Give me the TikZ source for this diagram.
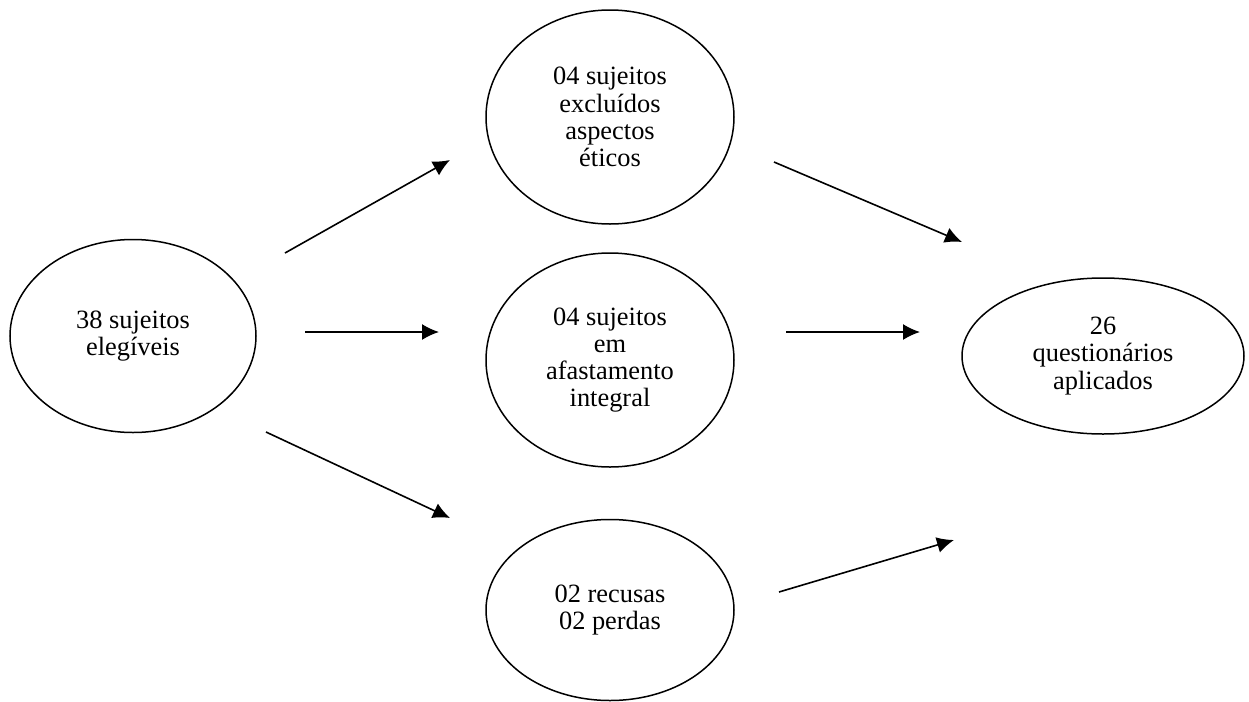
\documentclass[tikz,border=0pt]{standalone}
\usepackage{fontspec}
\setmainfont{Liberation Serif}
\usetikzlibrary{shapes.geometric,arrows.meta}
\begin{document}
\begin{tikzpicture}[x=0.5pt, y=-0.5pt,
		etapa/.style={draw, ellipse, line width=0.75pt, inner sep=0pt, align=center, font=\fontsize{13.2}{13.6}\selectfont},
		seta/.style={-{Latex[length=8.5pt,width=8pt]}, line width=0.8pt}]
		\useasboundingbox (0,0) rectangle (1249,702);
		
		\node (elegiveis) [etapa, minimum width=123pt, minimum height=96.5pt] at (133,336) {38 sujeitos\\elegíveis};
		\node (excluidos) [etapa, minimum width=124pt, minimum height=107pt] at (610,117) {04 sujeitos\\excluídos\\aspectos\\éticos};
		\node (afastamento) [etapa, minimum width=124pt, minimum height=107pt] at (610,360) {04 sujeitos\\em\\afastamento\\integral};
		\node (recusas) [etapa, minimum width=124pt, minimum height=90.5pt] at (610,610) {02 recusas\\02 perdas};
		\node (aplicados) [etapa, minimum width=141pt, minimum height=78pt] at (1103,356) {26\\questionários\\aplicados};
		
		% Pfeilenden
		\coordinate (ein1) at (285,253); \coordinate (aus1) at (450,160);
		\coordinate (ein2) at (305,332); \coordinate (aus2) at (439,332);
		\coordinate (ein3) at (266,432); \coordinate (aus3) at (450,518);
		\coordinate (ein4) at (774,162); \coordinate (aus4) at (962,242);
		\coordinate (ein5) at (786,332); \coordinate (aus5) at (920,332);
		\coordinate (ein6) at (779,592); \coordinate (aus6) at (954,540);
		
		\draw[seta] (ein1) -- (aus1);
		\draw[seta] (ein2) -- (aus2);
		\draw[seta] (ein3) -- (aus3);
		\draw[seta] (ein4) -- (aus4);
		\draw[seta] (ein5) -- (aus5);
		\draw[seta] (ein6) -- (aus6);
	\end{tikzpicture}
\end{document}
